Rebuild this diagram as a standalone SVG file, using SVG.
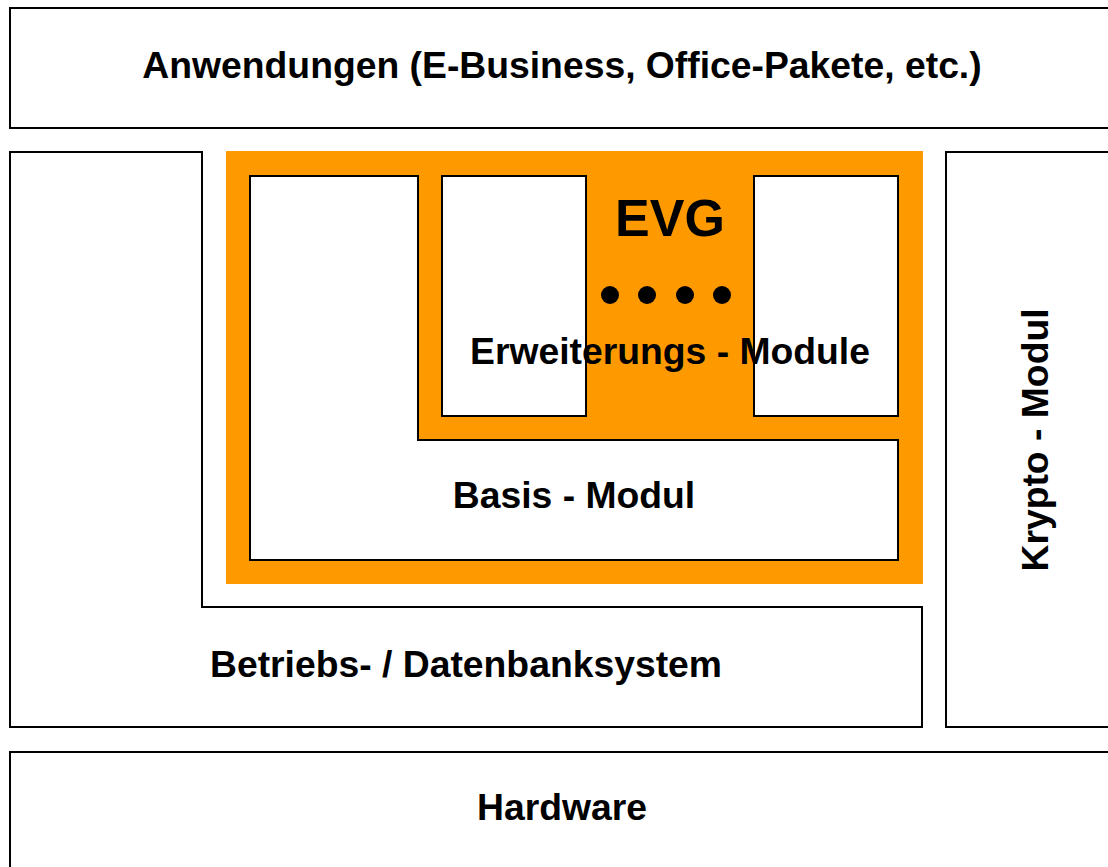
<svg xmlns="http://www.w3.org/2000/svg" width="1108" height="867" viewBox="0 0 1108 867">
<style>
.box{fill:#fff;stroke:#000;stroke-width:2}
.t{font-family:"Liberation Sans",Arial,sans-serif;font-weight:bold;fill:#000;text-anchor:middle;font-size:37.3px}
</style>
<rect width="1108" height="867" fill="#fff"/>
<g id="anwendungen">
<rect class="box" x="10" y="8" width="1110" height="120"/>
<text class="t" x="562" y="78">Anwendungen (E-Business, Office-Pakete, etc.)</text>
</g>
<g id="betriebssystem">
<path class="box" d="M10,152 H202 V607 H922 V727 H10 Z"/>
<text class="t" x="466" y="677">Betriebs- / Datenbanksystem</text>
</g>
<g id="evg">
<rect x="226" y="151" width="697" height="433" fill="#FF9900"/>
<text class="t" x="670" y="236" style="font-size:52px">EVG</text>
<g fill="#000">
<circle cx="610" cy="295" r="9"/>
<circle cx="647" cy="295" r="9"/>
<circle cx="685" cy="295" r="9"/>
<circle cx="722" cy="295" r="9"/>
</g>
</g>
<g id="basis-modul">
<path class="box" d="M250,176 H418 V440 H898 V560 H250 Z"/>
<text class="t" x="574" y="508">Basis - Modul</text>
</g>
<g id="erweiterungs-module">
<rect class="box" x="442" y="176" width="144" height="240"/>
<rect class="box" x="754" y="176" width="144" height="240"/>
<text class="t" x="670" y="364">Erweiterungs - Module</text>
</g>
<g id="krypto-modul">
<rect class="box" x="946" y="152" width="180" height="575"/>
<text class="t" transform="translate(1048,440) rotate(-90)">Krypto - Modul</text>
</g>
<g id="hardware">
<rect class="box" x="10" y="752" width="1110" height="130"/>
<text class="t" x="562" y="820">Hardware</text>
</g>
<g id="connectors"/>
</svg>
